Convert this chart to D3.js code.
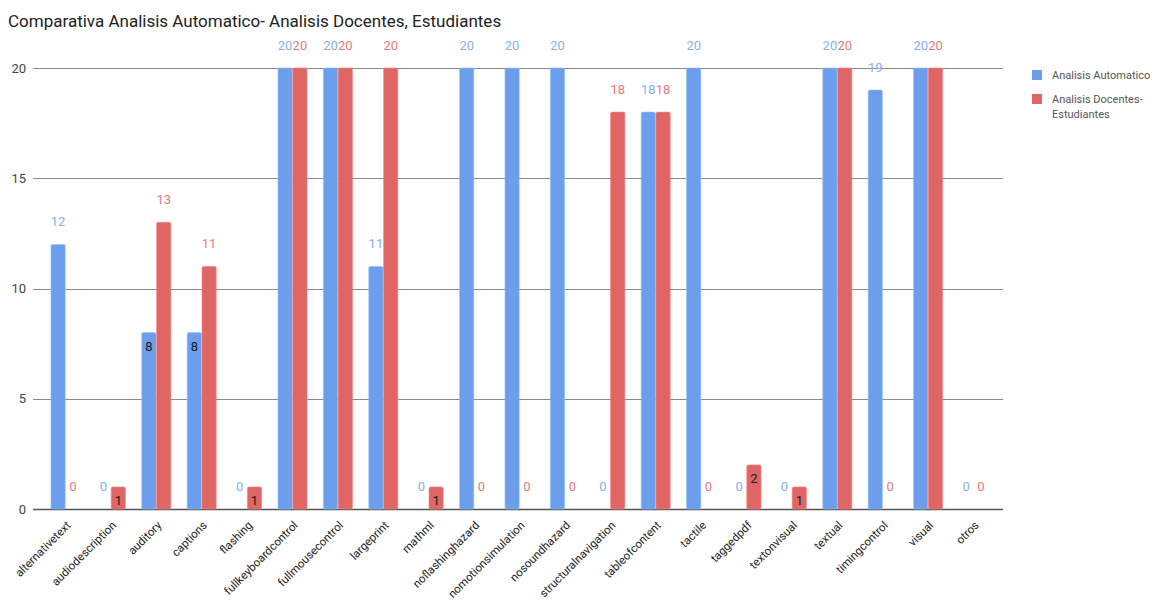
<!DOCTYPE html>
<html>
<head>
<meta charset="utf-8">
<script src="https://cdn.jsdelivr.net/npm/d3@7"></script>
<style>
  html, body { margin: 0; padding: 0; background: #fff; }
  svg { display: block; font-family: Roboto, "Noto Sans", Arial, sans-serif; }
</style>
</head>
<body>
<svg id="chart" width="1161" height="601"></svg>
<script>
// Accessibility features compared: automatic analysis vs. teachers/students analysis
const categories = [
  "alternativetext", "audiodescription", "auditory", "captions", "flashing",
  "fullkeyboardcontrol", "fullmousecontrol", "largeprint", "mathml",
  "noflashinghazard", "nomotionsimulation", "nosoundhazard",
  "structuralnavigation", "tableofcontent", "tactile", "taggedpdf",
  "textonvisual", "textual", "timingcontrol", "visual", "otros"
];
const analisisAutomatico = [12, 0, 8, 8, 0, 20, 20, 11, 0, 20, 20, 20, 0, 18, 20, 0, 0, 20, 19, 20, 0];
const analisisDocentes   = [0, 1, 13, 11, 1, 20, 20, 20, 1, 0, 0, 0, 18, 18, 0, 2, 1, 20, 0, 20, 0];
const seriesNames = ["Analisis Automatico", "Analisis Docentes-Estudiantes"];
const yTicks = [0, 5, 10, 15, 20];

const colors = ["#6d9eeb", "#e06666"];
const labelColors = ["#86aff0", "#e57a7a"];

const svg = d3.select("#chart");

const plot = { left: 33, right: 1003, top: 68, bottom: 509 };

const x0 = d3.scaleBand()
  .domain(categories)
  .range([42.8, 996.2])
  .paddingInner(0.36)
  .paddingOuter(0.18);

const x1 = d3.scaleBand()
  .domain(seriesNames)
  .range([0, x0.bandwidth()])
  .paddingInner(0.04);

const y = d3.scaleLinear()
  .domain([0, 20])
  .range([plot.bottom, plot.top]);

// Title
svg.append("text")
  .attr("x", 8)
  .attr("y", 27)
  .attr("font-size", 17)
  .attr("fill", "#222")
  .text("Comparativa Analisis Automatico- Analisis Docentes, Estudiantes");

// Gridlines
svg.append("g")
  .selectAll("line")
  .data(yTicks)
  .join("line")
  .attr("x1", plot.left)
  .attr("x2", plot.right)
  .attr("y1", d => Math.round(y(d)) + 0.5)
  .attr("y2", d => Math.round(y(d)) + 0.5)
  .attr("stroke", d => d === 0 ? "#555" : "#8a8a8a")
  .attr("stroke-width", d => d === 0 ? 1.3 : 1);

// Y axis labels
const yAxis = d3.axisLeft(y).tickValues(yTicks).tickSize(0).tickPadding(0);
const yg = svg.append("g")
  .attr("transform", `translate(${plot.left - 7},0)`)
  .call(yAxis);
yg.select(".domain").remove();
yg.selectAll("text")
  .attr("font-size", 13)
  .attr("fill", "#444")
  .attr("font-family", "Roboto, 'Noto Sans', Arial, sans-serif");

// X axis labels
const xAxis = d3.axisBottom(x0).tickSize(0).tickPadding(0);
const xg = svg.append("g")
  .attr("transform", `translate(0,${plot.bottom})`)
  .call(xAxis);
xg.select(".domain").remove();
xg.selectAll("text")
  .attr("font-size", 11.5)
  .attr("fill", "#222")
  .attr("font-family", "Roboto, 'Noto Sans', Arial, sans-serif")
  .attr("text-anchor", "end")
  .attr("dy", null)
  .attr("y", 0)
  .attr("transform", "translate(6,17) rotate(-45)");

// Bars
const rows = categories.map((c, i) => ({
  category: c,
  values: [analisisAutomatico[i], analisisDocentes[i]]
}));

const groups = svg.append("g")
  .selectAll("g")
  .data(rows)
  .join("g")
  .attr("transform", d => `translate(${x0(d.category)},0)`);

const cells = groups.selectAll("g")
  .data(d => d.values.map((v, s) => ({ value: v, series: s })))
  .join("g");

cells.filter(d => d.value > 0)
  .append("rect")
  .attr("x", d => x1(seriesNames[d.series]))
  .attr("y", d => y(d.value))
  .attr("width", x1.bandwidth())
  .attr("height", d => y(0) - y(d.value))
  .attr("rx", 1.5)
  .attr("fill", d => colors[d.series])
  .attr("stroke", d => d3.color(colors[d.series]).brighter(0.6))
  .attr("stroke-width", 0.6);

// Value labels: small values sit inside the bar top, others above
const inside = d => d.value > 0 && d.value < 10;

cells.append("text")
  .attr("x", d => x1(seriesNames[d.series]) + x1.bandwidth() / 2)
  .attr("y", d => inside(d) ? y(d.value) + 18 : y(d.value) - 18)
  .attr("text-anchor", "middle")
  .attr("font-size", 13)
  .attr("fill", d => inside(d) ? "#1a1a1a" : labelColors[d.series])
  .text(d => d.value);

// Legend
const legend = svg.append("g");
const legendItems = [
  { lines: ["Analisis Automatico"], y: 70 },
  { lines: ["Analisis Docentes-", "Estudiantes"], y: 94 }
];
legendItems.forEach((item, i) => {
  legend.append("rect")
    .attr("x", 1032)
    .attr("y", item.y)
    .attr("width", 10)
    .attr("height", 10)
    .attr("fill", colors[i]);
  item.lines.forEach((line, j) => {
    legend.append("text")
      .attr("x", 1052)
      .attr("y", item.y + 9 + j * 15)
      .attr("font-size", 11)
      .attr("fill", "#555")
      .text(line);
  });
});
</script>
</body>
</html>
